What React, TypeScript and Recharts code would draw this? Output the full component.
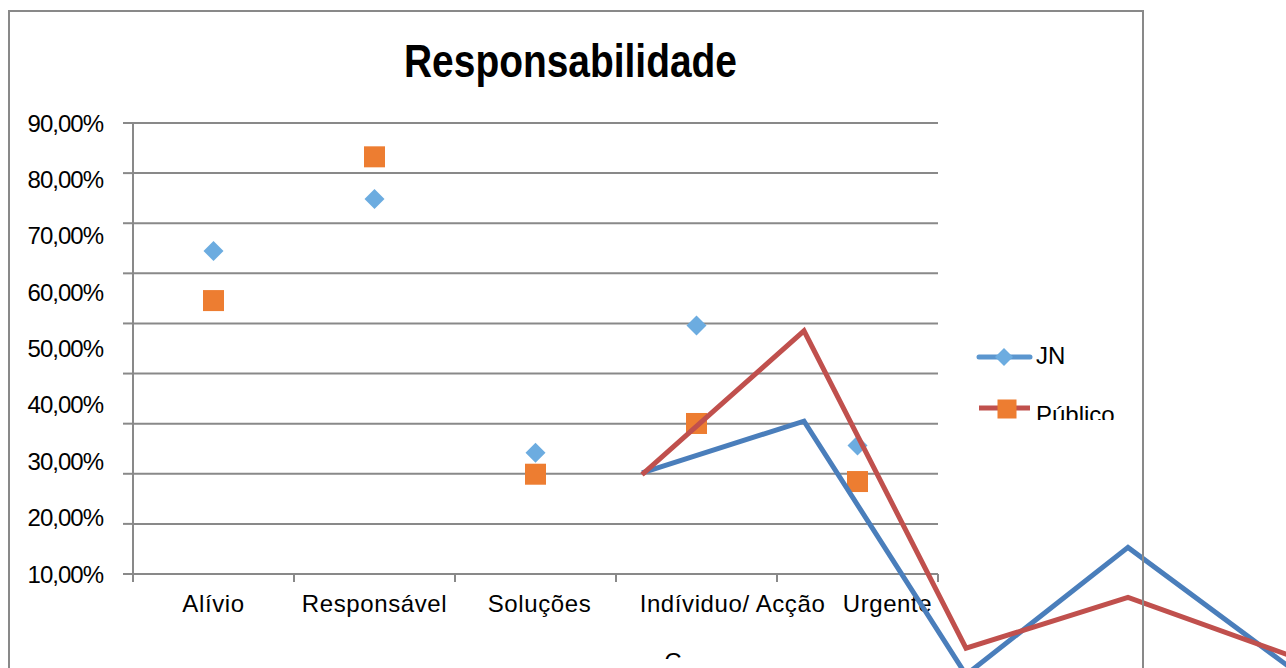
import React from 'react';
import { ComposedChart, LineChart, Line, Scatter, XAxis, YAxis, CartesianGrid, Legend } from 'recharts';

const chartTitle = 'Responsabilidade';
const xAxisTitle = 'C';
const categories = ['Alívio', 'Responsável', 'Soluções', 'Indíviduo/ Acção', 'Urgente'];
const jnValues = [67.3, 76.5, 31.5, 54.1, 32.8];
const publicoValues = [58.5, 84.0, 27.7, 36.7, 26.4];
const valueTicks = [10, 20, 30, 40, 50, 60, 70, 80, 90];
const gridTicks = [0, 10, 20, 30, 40, 50, 60, 70, 80, 90];
const categoryBoundaries = [0, 1, 2, 3, 4, 5];
const seriesNames = ['JN', 'Público'];

const rows = categories.map((cat, i) => ({ cat, jn: jnValues[i], pub: publicoValues[i] }));

const FONT = '"Liberation Sans", Arial, Helvetica, sans-serif';
const GRAY = '#898989';
const JN_MARK = '#6CACE0';
const JN_LINE = '#4A7EBB';
const JN_LEGEND_LINE = '#5B96CF';
const PUB_MARK = '#ED7D31';
const PUB_LINE = '#C0504D';
const LABEL_NUDGE = [0, 0, 4, 36, 30];

const fmtPct = (v: number) => v.toFixed(2).replace('.', ',') + '%';

const Diamond = (props: any) => {
  const { cx, cy } = props;
  const r = 10;
  return <path d={`M${cx},${cy - r}L${cx + r},${cy}L${cx},${cy + r}L${cx - r},${cy}Z`} fill={JN_MARK} />;
};

const Square = (props: any) => {
  const { cx, cy } = props;
  const s = 21;
  return <rect x={cx - s / 2} y={cy - s / 2} width={s} height={s} fill={PUB_MARK} />;
};

const EmptyTick = () => <g />;

const CatTick = (props: any) => {
  const { x, y, payload, index } = props;
  return (
    <text x={x + (LABEL_NUDGE[index] || 0)} y={y} dy={17} textAnchor="middle" fontSize={24} fontFamily={FONT} fill="#000" letterSpacing={0.6}>
      {payload.value}
    </text>
  );
};

const ValTick = (props: any) => {
  const { x, y, payload } = props;
  return (
    <text x={x} y={y} dy="0.355em" textAnchor="end" fontSize={24} fontFamily={FONT} fill="#000" letterSpacing={-1}>
      {fmtPct(payload.value)}
    </text>
  );
};

const LegendContent = (props: any) => {
  const names = props.payload && props.payload.length ? props.payload.map((p: any) => p.value) : seriesNames;
  return (
    <svg width={170} height={90} style={{ display: 'block' }}>
      <line x1={9} y1={27} x2={60} y2={27} stroke={JN_LEGEND_LINE} strokeWidth={5} strokeLinecap="round" />
      <path d="M34,18L43,27L34,36L25,27Z" fill={JN_MARK} />
      <text x={66} y={34} fontSize={24} fontFamily={FONT} fill="#000">{names[0]}</text>
      <line x1={9} y1={78} x2={60} y2={78} stroke={PUB_LINE} strokeWidth={5} />
      <rect x={27.5} y={69.5} width={19} height={19} fill={PUB_MARK} />
      <text x={66} y={93} fontSize={24} fontFamily={FONT} fill="#000">{names[1]}</text>
    </svg>
  );
};

function LineOverlay({ dataKey, color, top }: { dataKey: string; color: string; top: number }) {
  return (
    <div style={{ position: 'absolute', left: 632, top }}>
      <LineChart width={668} height={471} data={rows} margin={{ top: 10, right: 10, bottom: 10, left: 10 }}>
        <XAxis dataKey="cat" type="category" scale="point" hide padding={{ left: 0, right: 0 }} />
        <YAxis type="number" domain={[10, 90]} hide />
        <Line type="linear" dataKey={dataKey} stroke={color} strokeWidth={5} dot={false} activeDot={false} isAnimationActive={false} />
      </LineChart>
    </div>
  );
}

export default function App() {
  return (
    <div style={{ position: 'absolute', left: 0, top: 0, width: 1286, height: 668, overflow: 'hidden', background: '#fff', fontFamily: FONT }}>
      <div style={{ position: 'absolute', left: 0, top: 0 }}>
        <ComposedChart width={1286} height={668} data={rows} margin={{ top: 123, right: 348, bottom: 46, left: 0 }}>
          <CartesianGrid xAxisId="bounds" yAxisId="grid" vertical={false} stroke={GRAY} strokeWidth={2} />
          <XAxis
            xAxisId="bounds"
            dataKey="boundary"
            type="number"
            domain={[0, 5]}
            ticks={categoryBoundaries}
            allowDataOverflow
            interval={0}
            tick={<EmptyTick />}
            tickSize={8}
            height={8}
            axisLine={{ stroke: GRAY, strokeWidth: 2 }}
            tickLine={{ stroke: GRAY, strokeWidth: 2 }}
          />
          <XAxis
            xAxisId="cat"
            dataKey="cat"
            type="category"
            scale="band"
            height={40}
            axisLine={false}
            tickLine={false}
            tickSize={0}
            tickMargin={13}
            interval={0}
            tick={<CatTick />}
          />
          <YAxis
            yAxisId="grid"
            type="number"
            domain={[0, 90]}
            ticks={gridTicks}
            allowDataOverflow
            interval={0}
            width={10}
            tick={<EmptyTick />}
            tickSize={10}
            axisLine={{ stroke: GRAY, strokeWidth: 2 }}
            tickLine={{ stroke: GRAY, strokeWidth: 2 }}
          />
          <YAxis
            yAxisId="val"
            type="number"
            domain={[10, 90]}
            ticks={valueTicks}
            width={123}
            axisLine={false}
            tickLine={false}
            tickSize={0}
            tickMargin={20}
            interval={0}
            tick={<ValTick />}
          />
          <Scatter xAxisId="cat" yAxisId="val" dataKey="jn" name={seriesNames[0]} fill={JN_MARK} shape={Diamond} isAnimationActive={false} />
          <Scatter xAxisId="cat" yAxisId="val" dataKey="pub" name={seriesNames[1]} fill={PUB_MARK} shape={Square} isAnimationActive={false} />
          <Legend
            layout="vertical"
            align="center"
            verticalAlign="middle"
            content={<LegendContent />}
            wrapperStyle={{ position: 'absolute', left: 970, top: 330, width: 170, height: 90, overflow: 'hidden' }}
          />
        </ComposedChart>
      </div>
      <svg style={{ position: 'absolute', left: 0, top: 0 }} width={1286} height={100}>
        <text x={570.5} y={77} textAnchor="middle" fontSize={46} fontWeight="bold" fontFamily={FONT} fill="#000" textLength={333} lengthAdjust="spacingAndGlyphs">
          {chartTitle}
        </text>
      </svg>
      <LineOverlay dataKey="jn" color={JN_LINE} top={335} />
      <LineOverlay dataKey="pub" color={PUB_LINE} top={287} />
      <div style={{ position: 'absolute', left: 650, top: 640, width: 50, height: 19, overflow: 'hidden' }}>
        <svg width={50} height={40} style={{ display: 'block' }}>
          <text x={23} y={30} textAnchor="middle" fontSize={24} fontFamily={FONT} fill="#000">{xAxisTitle}</text>
        </svg>
      </div>
      <div style={{ position: 'absolute', left: 8, top: 10, width: 1136, height: 720, border: `2px solid ${GRAY}`, boxSizing: 'border-box', pointerEvents: 'none' }} />
    </div>
  );
}
